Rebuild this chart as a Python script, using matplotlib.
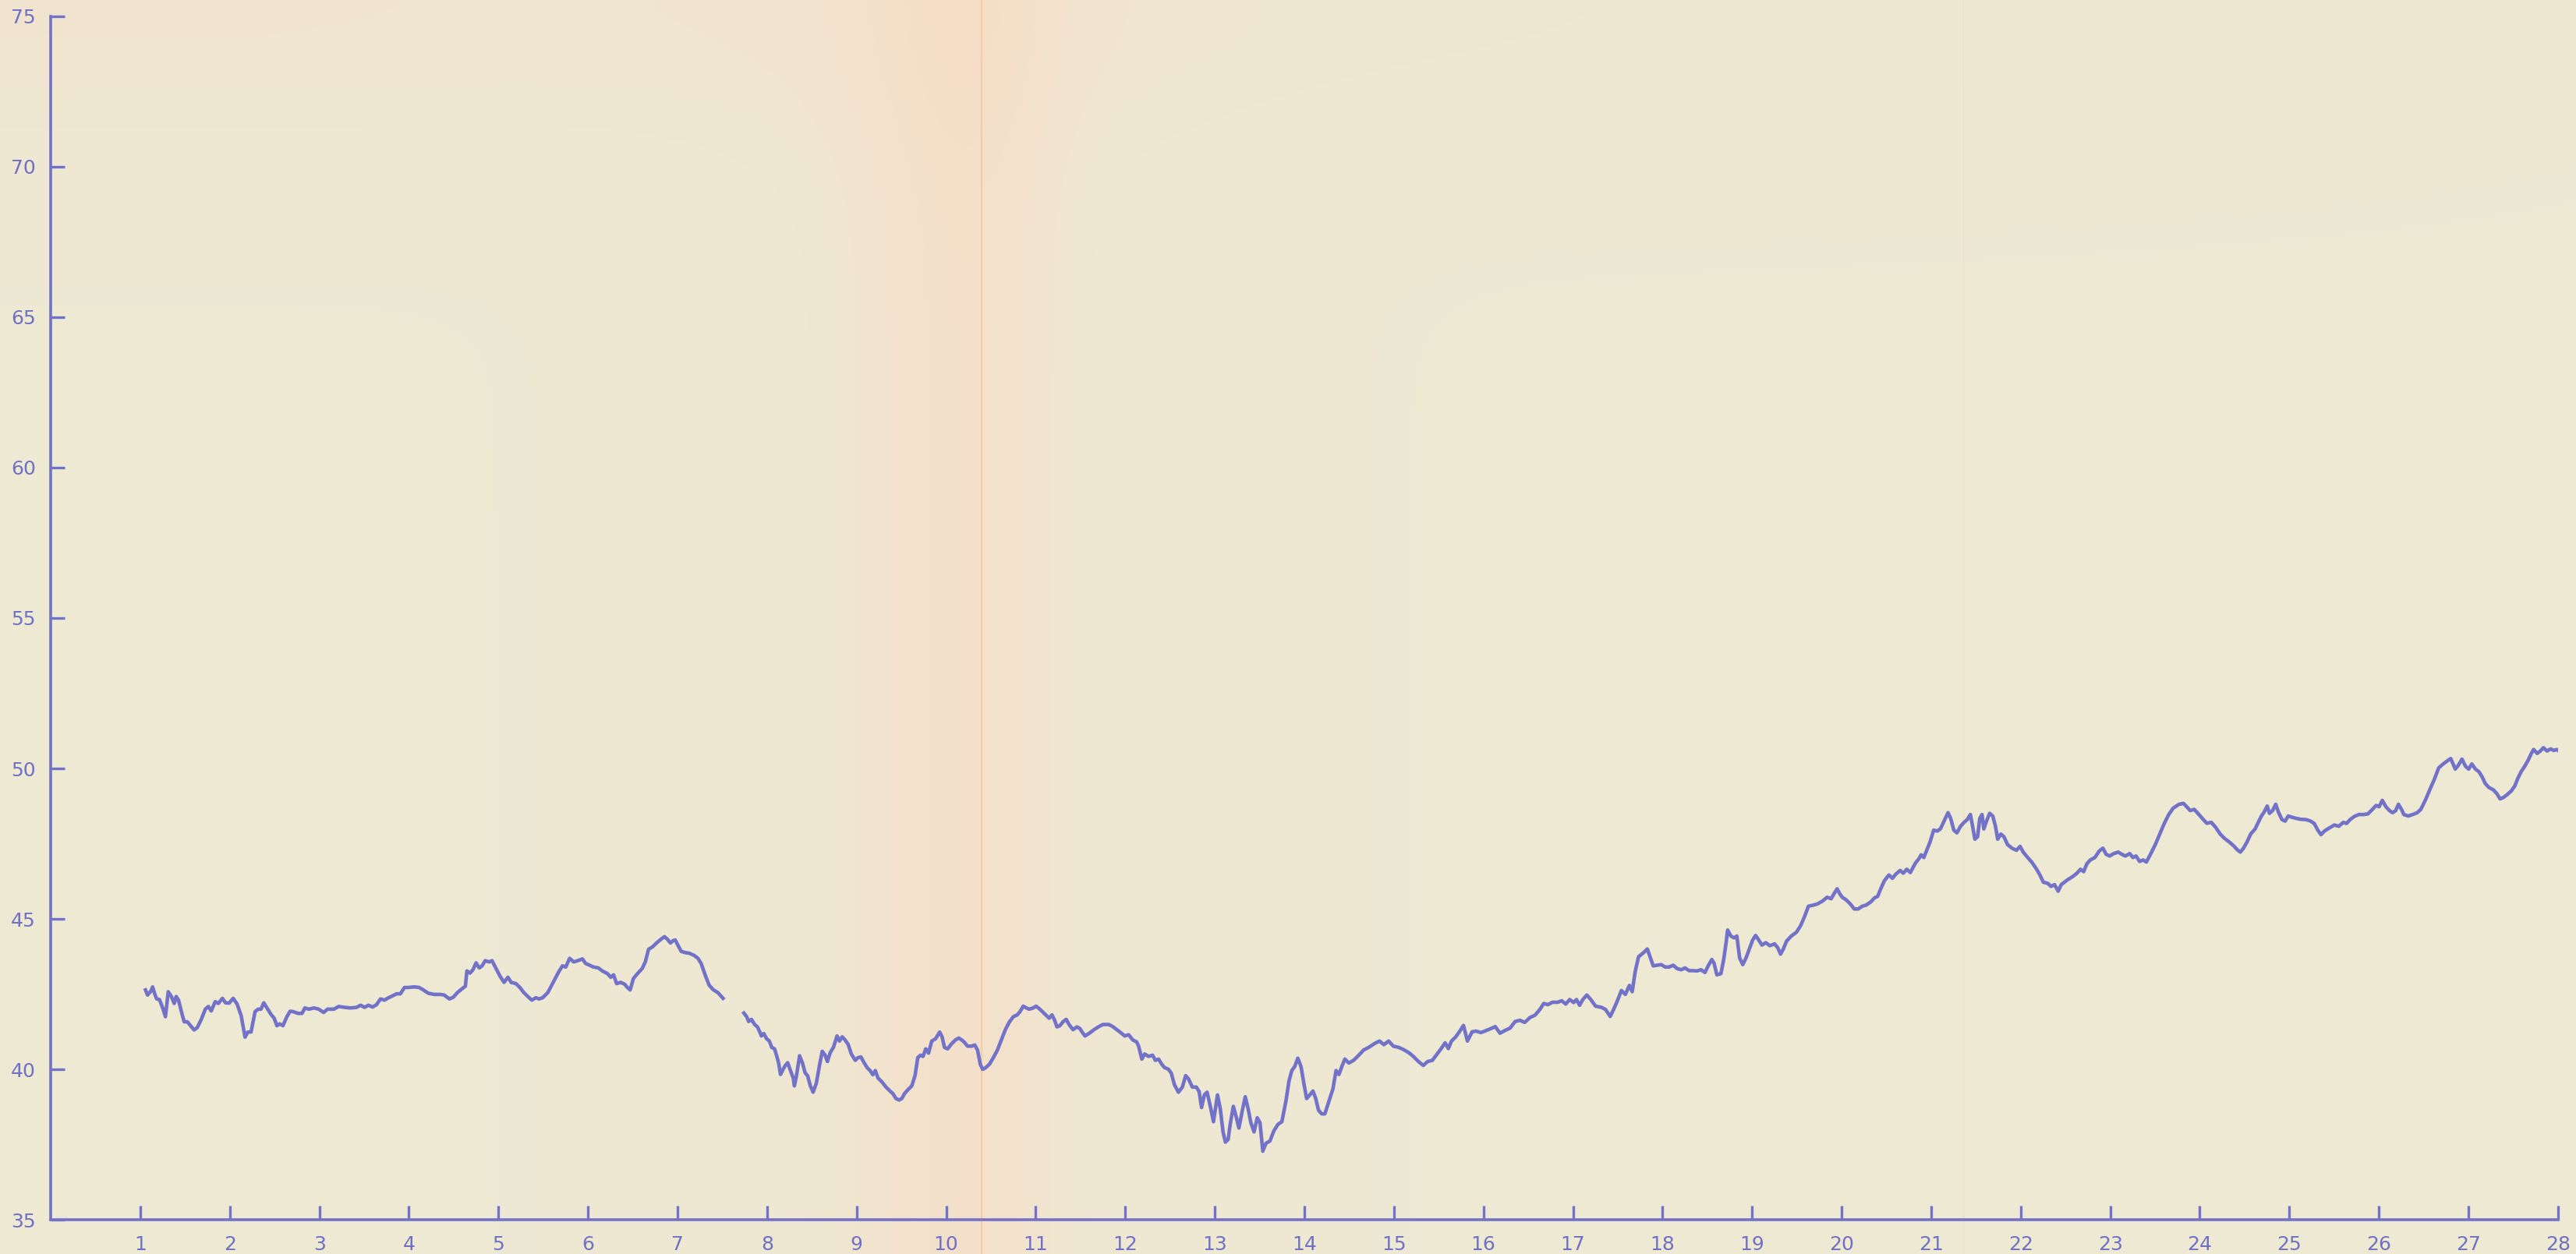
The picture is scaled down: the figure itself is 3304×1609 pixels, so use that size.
import numpy as np
import matplotlib.pyplot as plt

# values; the line has a short break just after 7.5
days_a = [1.058, 1.081, 1.116, 1.138, 1.161, 1.183, 1.214, 1.250, 1.281, 1.312, 1.347, 1.379, 1.401, 1.427,
          1.459, 1.490, 1.525, 1.561, 1.601, 1.637, 1.681, 1.726, 1.761, 1.792, 1.837, 1.872, 1.917, 1.952,
          1.992, 2.037, 2.081, 2.126, 2.170, 2.201, 2.237, 2.282, 2.317, 2.348, 2.379, 2.415, 2.459, 2.495,
          2.526, 2.557, 2.593, 2.637, 2.673, 2.704, 2.762, 2.806, 2.838, 2.882, 2.940, 2.993, 3.047, 3.091,
          3.162, 3.216, 3.282, 3.349, 3.416, 3.460, 3.505, 3.549, 3.594, 3.638, 3.683, 3.727, 3.772, 3.816,
          3.861, 3.905, 3.950, 3.994, 4.061, 4.114, 4.150, 4.216, 4.283, 4.350, 4.394, 4.452, 4.497, 4.541,
          4.594, 4.630, 4.648, 4.683, 4.715, 4.750, 4.786, 4.817, 4.852, 4.897, 4.928, 4.973, 5.017, 5.062,
          5.106, 5.142, 5.195, 5.239, 5.284, 5.328, 5.373, 5.417, 5.453, 5.493, 5.551, 5.618, 5.671, 5.715,
          5.751, 5.795, 5.840, 5.884, 5.938, 5.973, 6.018, 6.062, 6.116, 6.160, 6.218, 6.254, 6.285, 6.320,
          6.365, 6.409, 6.440, 6.471, 6.507, 6.552, 6.605, 6.640, 6.676, 6.721, 6.765, 6.818, 6.854, 6.885,
          6.921, 6.952, 6.974, 7.005, 7.041, 7.085, 7.130, 7.183, 7.228, 7.263, 7.308, 7.352, 7.397, 7.450,
          7.508]
price_a = [42.64, 42.47, 42.59, 42.74, 42.51, 42.34, 42.32, 42.04, 41.75, 42.58, 42.42, 42.19, 42.42, 42.30,
           41.92, 41.58, 41.58, 41.45, 41.31, 41.39, 41.66, 42.00, 42.09, 41.94, 42.25, 42.19, 42.36, 42.21,
           42.20, 42.36, 42.17, 41.79, 41.07, 41.24, 41.24, 41.92, 42.00, 42.00, 42.21, 42.04, 41.83, 41.70,
           41.45, 41.51, 41.45, 41.75, 41.93, 41.92, 41.86, 41.86, 42.04, 42.00, 42.04, 42.00, 41.89, 42.00,
           42.00, 42.09, 42.06, 42.04, 42.06, 42.13, 42.06, 42.13, 42.07, 42.15, 42.34, 42.30, 42.38, 42.44,
           42.51, 42.51, 42.72, 42.72, 42.74, 42.72, 42.66, 42.53, 42.49, 42.49, 42.47, 42.34, 42.40, 42.55,
           42.68, 42.76, 43.27, 43.20, 43.31, 43.54, 43.37, 43.44, 43.61, 43.57, 43.61, 43.35, 43.10, 42.89,
           43.06, 42.89, 42.85, 42.72, 42.55, 42.42, 42.30, 42.38, 42.34, 42.38, 42.55, 42.93, 43.23, 43.44,
           43.40, 43.69, 43.57, 43.61, 43.67, 43.52, 43.46, 43.40, 43.37, 43.27, 43.18, 43.06, 43.14, 42.85,
           42.89, 42.83, 42.72, 42.64, 43.02, 43.18, 43.35, 43.57, 43.99, 44.07, 44.20, 44.33, 44.41, 44.33,
           44.20, 44.28, 44.30, 44.12, 43.92, 43.88, 43.86, 43.79, 43.69, 43.52, 43.14, 42.80, 42.65, 42.55,
           42.36]

days_b = [7.741, 7.772, 7.794, 7.825, 7.861, 7.892, 7.919, 7.936, 7.963, 7.994, 8.025, 8.052, 8.083, 8.105,
          8.128, 8.150, 8.172, 8.203, 8.230, 8.261, 8.292, 8.305, 8.328, 8.363, 8.394, 8.425, 8.452, 8.483,
          8.514, 8.550, 8.585, 8.616, 8.648, 8.674, 8.705, 8.741, 8.781, 8.808, 8.839, 8.870, 8.905, 8.941,
          8.985, 9.016, 9.048, 9.083, 9.119, 9.150, 9.181, 9.208, 9.239, 9.283, 9.328, 9.372, 9.403, 9.439,
          9.474, 9.505, 9.536, 9.572, 9.616, 9.652, 9.683, 9.714, 9.741, 9.772, 9.803, 9.839, 9.883, 9.927,
          9.954, 9.981, 10.016, 10.061, 10.105, 10.141, 10.172, 10.203, 10.239, 10.283, 10.319, 10.350,
          10.381, 10.407, 10.439, 10.483, 10.527, 10.572, 10.616, 10.661, 10.705, 10.750, 10.794, 10.825,
          10.861, 10.896, 10.927, 10.972, 11.003, 11.038, 11.074, 11.118, 11.150, 11.181, 11.207, 11.238,
          11.270, 11.305, 11.341, 11.372, 11.416, 11.461, 11.492, 11.518, 11.550, 11.594, 11.652, 11.705,
          11.750, 11.816, 11.861, 11.905, 11.949, 11.994, 12.038, 12.083, 12.127, 12.149, 12.185, 12.216,
          12.261, 12.305, 12.336, 12.372, 12.407, 12.438, 12.483, 12.514, 12.549, 12.594, 12.638, 12.674,
          12.705, 12.749, 12.794, 12.825, 12.852, 12.883, 12.914, 12.950, 12.985, 13.030, 13.061, 13.092,
          13.118, 13.149, 13.172, 13.207, 13.238, 13.269, 13.305, 13.340, 13.372, 13.403, 13.438, 13.474,
          13.505, 13.536, 13.571, 13.616, 13.660, 13.705, 13.749, 13.794, 13.829, 13.860, 13.892, 13.927,
          13.963, 13.994, 14.025, 14.061, 14.096, 14.127, 14.158, 14.194, 14.229,
          14.319, 14.354, 14.386, 14.417, 14.452, 14.497, 14.550, 14.608, 14.661, 14.719, 14.786, 14.839,
          14.888, 14.941, 14.994, 15.052, 15.105, 15.163, 15.217, 15.274, 15.328, 15.377, 15.430, 15.483,
          15.528, 15.572, 15.608, 15.643, 15.688, 15.732, 15.777, 15.821, 15.874, 15.919, 15.972, 16.030,
          16.088, 16.132, 16.185, 16.239, 16.297, 16.354, 16.408, 16.461, 16.519, 16.576, 16.630, 16.674,
          16.719, 16.772, 16.830, 16.874, 16.919, 16.963, 17.008, 17.039, 17.074, 17.110, 17.154, 17.199,
          17.252, 17.319, 17.363, 17.416, 17.452, 17.496, 17.541, 17.585, 17.630, 17.661, 17.696, 17.732,
          17.785, 17.830, 17.865, 17.896, 17.941, 17.985, 18.030, 18.074, 18.119, 18.163, 18.207, 18.252,
          18.296, 18.341, 18.385, 18.430, 18.474, 18.510, 18.550, 18.576, 18.607, 18.652, 18.683, 18.710,
          18.727, 18.763, 18.799, 18.830, 18.861, 18.896, 18.932, 18.963, 19.007, 19.039, 19.074, 19.110,
          19.154, 19.198, 19.252, 19.287, 19.318, 19.349, 19.385, 19.438, 19.496, 19.541, 19.585, 19.629,
          19.687, 19.732, 19.785, 19.838, 19.883, 19.918, 19.950, 19.976, 20.007, 20.052, 20.096, 20.141,
          20.185, 20.229, 20.274,
          20.328, 20.368, 20.403, 20.438, 20.478, 20.528, 20.568, 20.603, 20.653, 20.688, 20.728, 20.768,
          20.803, 20.828, 20.863, 20.888, 20.918, 20.953, 20.988, 21.028, 21.068, 21.103, 21.138, 21.188,
          21.218, 21.253, 21.288, 21.328, 21.368, 21.403, 21.438, 21.468, 21.488, 21.518, 21.543, 21.568,
          21.588, 21.618, 21.653, 21.688, 21.718, 21.743, 21.778, 21.813, 21.853, 21.903, 21.953, 21.993,
          22.028, 22.078, 22.128, 22.178, 22.218, 22.253, 22.303, 22.338, 22.378, 22.418, 22.453, 22.488,
          22.528, 22.578, 22.628, 22.668, 22.703, 22.738, 22.778, 22.828, 22.878, 22.918, 22.953, 22.993,
          23.038, 23.088, 23.128, 23.168, 23.218, 23.253, 23.288, 23.328, 23.368, 23.403, 23.453, 23.503,
          23.553, 23.603, 23.653, 23.703, 23.768, 23.818, 23.853, 23.893, 23.938, 23.978, 24.028, 24.078,
          24.128, 24.178, 24.228, 24.278, 24.328, 24.378, 24.418, 24.453, 24.488, 24.528, 24.568, 24.618,
          24.653, 24.688, 24.718, 24.753, 24.778, 24.813, 24.848, 24.878, 24.918, 24.953, 24.988, 25.028,
          25.078, 25.128, 25.188, 25.238, 25.278, 25.318, 25.353, 25.388, 25.428, 25.468, 25.503, 25.553,
          25.603, 25.638, 25.678, 25.728, 25.778, 25.828, 25.878, 25.928, 25.968, 26.003, 26.038, 26.078,
          26.118, 26.153, 26.188, 26.218, 26.253, 26.278, 26.328, 26.378, 26.428, 26.468, 26.518, 26.568,
          26.618, 26.668, 26.718, 26.768, 26.803, 26.853, 26.888, 26.928, 26.968, 27.003, 27.038, 27.078,
          27.118, 27.153, 27.188, 27.228, 27.278, 27.318, 27.353, 27.388, 27.428, 27.478, 27.518, 27.553,
          27.588, 27.628, 27.668, 27.703, 27.728, 27.768, 27.803, 27.838, 27.878, 27.918, 27.953, 27.988,
          28.028]
price_b = [41.87, 41.75, 41.59, 41.66, 41.49, 41.41, 41.24, 41.11, 41.19, 41.02, 40.94, 40.73, 40.68, 40.47,
           40.22, 39.83, 39.96, 40.13, 40.22, 39.96, 39.71, 39.45, 39.79, 40.45, 40.22, 39.88, 39.79, 39.45,
           39.24, 39.54, 40.13, 40.60, 40.47, 40.26, 40.56, 40.73, 41.11, 40.94, 41.08, 40.98, 40.83, 40.51,
           40.30, 40.39, 40.41, 40.22, 40.05, 39.96, 39.82, 39.96, 39.71, 39.58, 39.41, 39.28, 39.20, 39.03,
           38.98, 39.03, 39.20, 39.32, 39.45, 39.79, 40.39, 40.47, 40.43, 40.68, 40.54, 40.94, 41.02, 41.24,
           41.08, 40.73, 40.68, 40.85, 40.98, 41.04, 40.98, 40.90, 40.77, 40.77, 40.81, 40.64,
           40.17, 40.00, 40.05, 40.17, 40.39, 40.64, 40.98, 41.32, 41.57, 41.75, 41.81, 41.92,
           42.10, 42.04, 42.00, 42.04, 42.10, 42.02, 41.92, 41.79, 41.70, 41.81, 41.66, 41.41,
           41.45, 41.58, 41.66, 41.49, 41.32, 41.41, 41.36, 41.24, 41.11, 41.19, 41.32, 41.42,
           41.49, 41.49, 41.42, 41.32, 41.22, 41.11, 41.15, 40.98, 40.91, 40.77, 40.34, 40.51,
           40.43, 40.47, 40.30, 40.34, 40.17, 40.06, 40.00, 39.87, 39.49, 39.24, 39.41, 39.79,
           39.69, 39.41, 39.41, 39.26, 38.73, 39.15, 39.24, 38.77, 38.26, 39.15, 38.69, 37.92,
           37.58, 37.67, 38.18, 38.77, 38.43, 38.05, 38.60, 39.09, 38.69, 38.22, 37.92, 38.39,
           38.22, 37.28, 37.54, 37.62, 37.96, 38.17, 38.26, 38.94, 39.62, 39.96, 40.09, 40.37,
           40.09, 39.54, 39.03, 39.15, 39.28, 39.03, 38.64, 38.52, 38.52,
           39.35, 39.96, 39.83, 40.08, 40.34, 40.21, 40.30, 40.47, 40.64, 40.73, 40.86, 40.94,
           40.82, 40.94, 40.77, 40.73, 40.66, 40.56, 40.43, 40.26, 40.13, 40.26, 40.30, 40.51,
           40.69, 40.88, 40.69, 40.94, 41.07, 41.25, 41.46, 40.94, 41.25, 41.27, 41.22, 41.29,
           41.36, 41.42, 41.20, 41.29, 41.37, 41.59, 41.63, 41.56, 41.72, 41.80, 41.99, 42.19,
           42.15, 42.23, 42.23, 42.28, 42.17, 42.32, 42.22, 42.32, 42.13, 42.32, 42.47, 42.32,
           42.10, 42.06, 41.99, 41.76, 41.98, 42.28, 42.62, 42.49, 42.79, 42.58, 43.27, 43.74,
           43.87, 44.00, 43.70, 43.44, 43.46, 43.48, 43.40, 43.40, 43.46, 43.35, 43.31, 43.37,
           43.28, 43.28, 43.27, 43.31, 43.22, 43.44, 43.65, 43.52, 43.14, 43.18, 43.65, 44.21,
           44.63, 44.43, 44.37, 44.43, 43.70, 43.48, 43.70, 43.95, 44.30, 44.45, 44.30, 44.13,
           44.21, 44.11, 44.17, 44.04, 43.83, 44.00, 44.26, 44.43, 44.56, 44.77, 45.07, 45.42,
           45.46, 45.50, 45.59, 45.72, 45.67, 45.85, 46.00, 45.85, 45.72, 45.63, 45.50, 45.33,
           45.33, 45.42, 45.46,
           45.57, 45.70, 45.75, 46.01, 46.27, 46.46, 46.35, 46.48, 46.61, 46.52, 46.65, 46.54,
           46.74, 46.87, 47.00, 47.13, 47.04, 47.30, 47.56, 47.95, 47.92, 47.99, 48.21, 48.53,
           48.34, 47.95, 47.86, 48.08, 48.21, 48.30, 48.47, 47.99, 47.65, 47.73, 48.34, 48.47,
           47.99, 48.25, 48.51, 48.42, 48.08, 47.65, 47.82, 47.73, 47.47, 47.35, 47.28, 47.41,
           47.22, 47.04, 46.87, 46.65, 46.44, 46.22, 46.18, 46.08, 46.14, 45.92, 46.14, 46.22,
           46.31, 46.40, 46.52, 46.65, 46.57, 46.83, 46.96, 47.04, 47.26, 47.35, 47.15, 47.09,
           47.17, 47.22, 47.15, 47.09, 47.17, 47.04, 47.09, 46.91, 46.96, 46.89, 47.17, 47.47,
           47.82, 48.17, 48.47, 48.68, 48.81, 48.84, 48.73, 48.60, 48.64, 48.51, 48.34, 48.18,
           48.21, 48.04, 47.82, 47.67, 47.56, 47.43, 47.30, 47.22, 47.35, 47.56, 47.82, 47.99,
           48.21, 48.42, 48.55, 48.75, 48.51, 48.60, 48.81, 48.55, 48.30, 48.25, 48.42, 48.38,
           48.34, 48.31, 48.30, 48.25, 48.17, 47.95, 47.80, 47.91, 47.99, 48.06, 48.12, 48.08,
           48.21, 48.17, 48.30, 48.41, 48.47, 48.47, 48.49, 48.64, 48.77, 48.73, 48.94, 48.73,
           48.60, 48.53, 48.60, 48.81, 48.64, 48.47, 48.42, 48.47, 48.53, 48.64, 48.94, 49.29,
           49.63, 50.02, 50.15, 50.26, 50.33, 49.98, 50.11, 50.31, 50.07, 49.98, 50.15, 49.98,
           49.89, 49.72, 49.50, 49.37, 49.29, 49.16, 48.99, 49.03, 49.12, 49.25, 49.42, 49.68,
           49.89, 50.07, 50.28, 50.50, 50.63, 50.50, 50.58, 50.69, 50.58, 50.65, 50.60, 50.63,
           50.54]

x_ticks = list(range(1, 29))
y_ticks = [35, 40, 45, 50, 55, 60, 65, 70, 75]

ink = '#7272c9'
label_ink = '#7070c4'

fig = plt.figure(figsize=(33.04, 16.09), dpi=100)

# paper background: cream sheet, soft peach band by the fold, warmer along the top
bg = fig.add_axes([0, 0, 1, 1], zorder=-5)
bg.set_axis_off()
gx = np.linspace(0, 1, 1100)[None, :]
gy = np.linspace(0, 1, 540)[:, None]
base = np.array([0.933, 0.914, 0.830])
peach = np.array([0.972, 0.858, 0.770])
band = np.where(gx < 0.381,
                np.exp(-((gx - 0.375) / 0.042) ** 2),
                0.80 * np.exp(-((gx - 0.381) / 0.030) ** 2))
band = 0.50 * band + 0.12 * np.exp(-((gx - 0.37) / 0.10) ** 2)
top = 0.30 * np.exp(-(gy / 0.12) ** 2) * np.clip(1.1 - gx, 0, 1)
w = np.clip(band + top, 0, 1)
img = base[None, None, :] * (1 - w[..., None]) + peach[None, None, :] * w[..., None]
bg.imshow(img, extent=[0, 1, 0, 1], aspect='auto', origin='upper', interpolation='bilinear')
bg.axvline(0.381, color='#f3c9a2', lw=1.5, alpha=0.9)
bg.axvline(0.762, color='#f0dcc4', lw=1.0, alpha=0.7)
bg.set_xlim(0, 1)
bg.set_ylim(0, 1)

ax = fig.add_axes([0.0197, 0.0273, 0.9733, 0.9597])
ax.patch.set_alpha(0)

ax.plot(days_a, price_a, color=ink, lw=3.3, solid_joinstyle='round')
ax.plot(days_b, price_b, color=ink, lw=3.3, solid_joinstyle='round')

ax.set_xlim(0, 28)
ax.set_ylim(35, 75)
ax.set_xticks(x_ticks)
ax.set_yticks(y_ticks)

for side in ['top', 'right']:
    ax.spines[side].set_visible(False)
for side in ['left', 'bottom']:
    ax.spines[side].set_color(ink)
    ax.spines[side].set_linewidth(2.6)

ax.tick_params(axis='both', direction='in', length=13, width=2.4, color=ink,
               labelcolor=label_ink, labelsize=18, pad=14)

fig.savefig('out.png', dpi=100)
